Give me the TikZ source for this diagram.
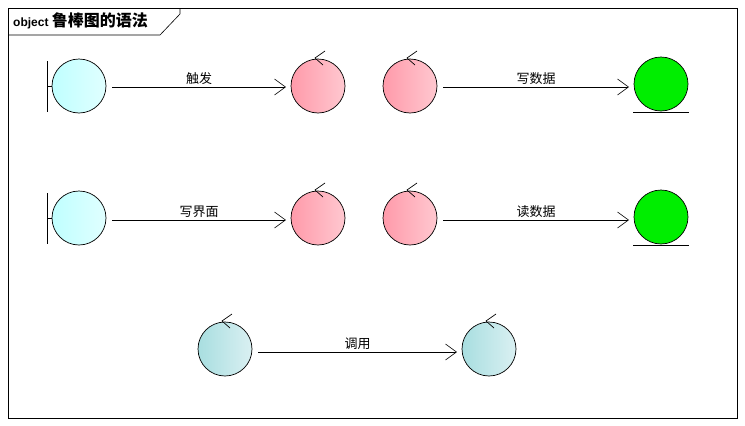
\documentclass[tikz,border=0pt]{standalone}
\usepackage{fontspec}
\setmainfont{Liberation Sans}
\newfontfamily\cjk{Noto Sans CJK SC}
\usetikzlibrary{arrows.meta}
\begin{document}
\begin{tikzpicture}[x=1pt,y=-1pt,
 obj/.style={circle,draw,line width=0.7pt,minimum size=54pt,inner sep=0pt},
 bnd/.style={obj,left color=cyan!25,right color=cyan!12},
 ctl/.style={obj,left color={rgb,255:red,255;green,154;blue,170},right color={rgb,255:red,255;green,200;blue,208}},
 ctl2/.style={obj,left color={rgb,255:red,168;green,222;blue,224},right color={rgb,255:red,218;green,240;blue,242}},
 ent/.style={obj,fill={rgb,255:red,0;green,238;blue,0}},
 msg/.style={-{Straight Barb[length=11pt,width=16pt]},line width=0.6pt},
 mk/.style={line width=0.7pt},
 lab/.style={font=\cjk\fontsize{13}{15}\selectfont,above,inner sep=2pt}]
\useasboundingbox (0,0) rectangle (745,426);
\draw[line width=0.6pt] (8,8) rectangle (737,418);
\draw[line width=0.6pt] (8,35) -- (160,35) -- (180,14) -- (180,8);
\node[anchor=west,inner sep=0pt] (title) at (13,21) {\bfseries\fontsize{12}{14}\selectfont object \cjk\fontsize{16}{18}\selectfont 鲁棒图的语法};
% row 1
\node[bnd] (b1) at (79,86) {};
\draw[line width=0.6pt] (47,61) -- (47,112);
\draw[line width=0.6pt] (47,86) -- (b1.west);
\node[ctl] (c1) at (318,86) {};
\node[ctl] (c2) at (410,86) {};
\node[ent] (e1) at (661,84) {};
\draw[line width=0.6pt] (633,112) -- (689,112);
\draw[msg] (112,87) -- node[lab] {触发} (286,87);
\draw[msg] (443,87) -- node[lab] {写数据} (629,87);
% row 2
\node[bnd] (b2) at (79,218) {};
\draw[line width=0.6pt] (47,193) -- (47,244);
\draw[line width=0.6pt] (47,218) -- (b2.west);
\node[ctl] (c3) at (318,218) {};
\node[ctl] (c4) at (410,218) {};
\node[ent] (e2) at (661,217) {};
\draw[line width=0.6pt] (633,245) -- (689,245);
\draw[msg] (112,220) -- node[lab] {写界面} (286,220);
\draw[msg] (443,220) -- node[lab] {读数据} (629,220);
% row 3
\node[ctl2] (d1) at (225,349) {};
\node[ctl2] (d2) at (489,349) {};
\draw[msg] (258,352) -- node[lab] {调用} (457,352);
\foreach \n in {c1,c2,c3,c4,d1,d2}{
 \draw[mk] ([xshift=7pt,yshift=35pt]\n.center) -- ([xshift=-3pt,yshift=28pt]\n.center) -- ([xshift=5pt,yshift=21pt]\n.center);
}
\end{tikzpicture}
\end{document}
